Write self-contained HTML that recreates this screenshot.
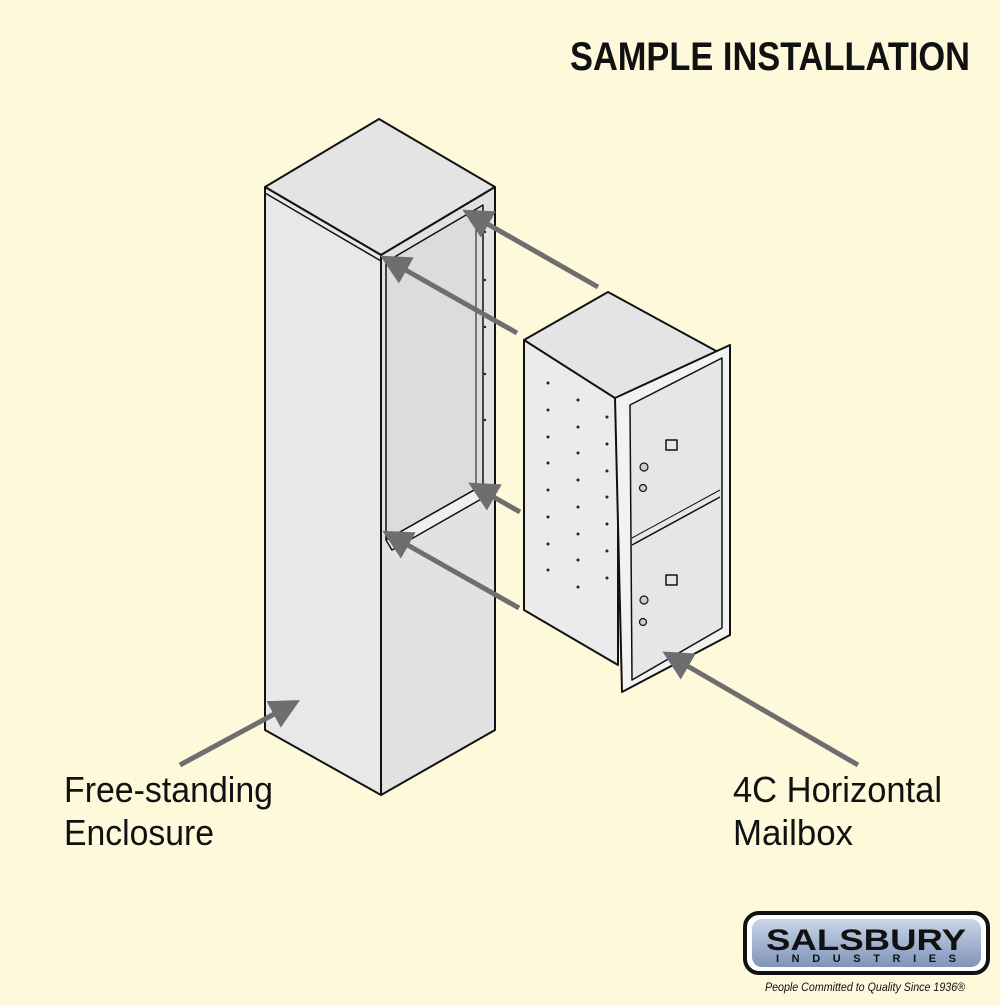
<!DOCTYPE html>
<html><head><meta charset="utf-8"><style>
body{margin:0;width:1000px;height:1000px;background:#fef9da;overflow:hidden;font-family:"Liberation Sans",sans-serif}
</style></head><body>
<svg width="1000" height="1000" viewBox="0 0 1000 1000" xmlns="http://www.w3.org/2000/svg">
<defs>
<marker id="ah" markerWidth="6" markerHeight="6" refX="1" refY="3" orient="auto" markerUnits="strokeWidth">
<path d="M6,0 L0,3 L6,6 Z" fill="#6e6e6e" transform="rotate(180 3 3)"/>
</marker>
<linearGradient id="lg" x1="0" y1="0" x2="0" y2="1"><stop offset="0" stop-color="#c9d6ea"/><stop offset="1" stop-color="#7f94b8"/></linearGradient>
</defs>
<rect width="1000" height="1000" fill="#fef9da"/>
<text x="970" y="70" text-anchor="end" font-family="Liberation Sans Narrow,Liberation Sans,sans-serif" font-weight="bold" font-size="40" fill="#111" textLength="400" lengthAdjust="spacingAndGlyphs">SAMPLE INSTALLATION</text>

<!-- Enclosure -->
<g stroke="#111" stroke-width="2" stroke-linejoin="round">
<polygon points="379,119 495,187 381,255 265,187" fill="#e4e4e4"/>
<polygon points="265,187 381,255 381,795 265,730" fill="#e8e8e8"/>
<polygon points="381,255 495,187 495,730 381,795" fill="#e2e2e2"/>
<polygon points="386,262 483,205 483,485 386,540" fill="#dcdcdc" stroke-width="1.5"/>
<polygon points="386,540 483,485 483,498 392,550" fill="#f0f0f0" stroke-width="1.5"/>
<line x1="265" y1="193" x2="381" y2="261" stroke-width="1.5"/>
<line x1="476" y1="210" x2="476" y2="485" stroke-width="1"/>
</g>

<!-- Mailbox -->
<g stroke="#111" stroke-width="2" stroke-linejoin="round">
<polygon points="608,292 718,352 618,405 524,340" fill="#e4e4e4"/>
<polygon points="524,340 618,400 618,665 524,610" fill="#ebebeb"/>
<polygon points="615,398 730,345 730,635 622,692" fill="#f2f2f2"/>
<polygon points="630,405 722,358 722,628 632,680" fill="#e6e6e6" stroke-width="1.5"/>
<line x1="632" y1="545" x2="720" y2="497" stroke-width="1.5"/>
<line x1="632" y1="538" x2="720" y2="490" stroke-width="1"/>
<rect x="666" y="440" width="11" height="10" fill="none" stroke-width="1.5"/>
<rect x="666" y="575" width="11" height="10" fill="none" stroke-width="1.5"/>
<circle cx="644" cy="467" r="4" fill="#ccc" stroke-width="1.2"/>
<circle cx="643" cy="488" r="3.5" fill="#ccc" stroke-width="1.2"/>
<circle cx="644" cy="600" r="4" fill="#ccc" stroke-width="1.2"/>
<circle cx="643" cy="622" r="3.5" fill="#ccc" stroke-width="1.2"/>
</g>
<g fill="#222">
<circle cx="548" cy="383" r="1.5"/><circle cx="548" cy="410" r="1.5"/><circle cx="548" cy="437" r="1.5"/><circle cx="548" cy="463" r="1.5"/><circle cx="548" cy="490" r="1.5"/><circle cx="548" cy="517" r="1.5"/><circle cx="548" cy="544" r="1.5"/><circle cx="548" cy="570" r="1.5"/>
<circle cx="578" cy="400" r="1.5"/><circle cx="578" cy="427" r="1.5"/><circle cx="578" cy="453" r="1.5"/><circle cx="578" cy="480" r="1.5"/><circle cx="578" cy="507" r="1.5"/><circle cx="578" cy="534" r="1.5"/><circle cx="578" cy="560" r="1.5"/><circle cx="578" cy="587" r="1.5"/>
<circle cx="607" cy="417" r="1.5"/><circle cx="607" cy="444" r="1.5"/><circle cx="607" cy="471" r="1.5"/><circle cx="607" cy="497" r="1.5"/><circle cx="607" cy="524" r="1.5"/><circle cx="607" cy="551" r="1.5"/><circle cx="607" cy="578" r="1.5"/>
<circle cx="485" cy="232" r="1.2"/><circle cx="485" cy="280" r="1.2"/><circle cx="485" cy="327" r="1.2"/><circle cx="485" cy="374" r="1.2"/><circle cx="485" cy="420" r="1.2"/>
</g>

<!-- Arrows -->
<g stroke="#6e6e6e" stroke-width="5" marker-end="url(#ah)" fill="none">
<line x1="598" y1="287" x2="484" y2="222"/>
<line x1="517" y1="333" x2="402" y2="268"/>
<line x1="520" y1="512" x2="490" y2="495"/>
<line x1="519" y1="608" x2="404" y2="543"/>
<line x1="858" y1="765" x2="684" y2="664"/>
<line x1="180" y1="765" x2="278" y2="712"/>
</g>

<g font-size="36" fill="#111" lengthAdjust="spacingAndGlyphs">
<text x="64" y="802" textLength="209" lengthAdjust="spacingAndGlyphs">Free-standing</text>
<text x="64" y="845" textLength="150" lengthAdjust="spacingAndGlyphs">Enclosure</text>
<text x="733" y="802" textLength="209" lengthAdjust="spacingAndGlyphs">4C Horizontal</text>
<text x="733" y="845" textLength="120" lengthAdjust="spacingAndGlyphs">Mailbox</text>
</g>

<!-- Logo -->
<rect x="745" y="913" width="243" height="60" rx="14" fill="#fff" stroke="#111" stroke-width="4"/>
<rect x="752" y="919" width="229" height="48" rx="10" fill="url(#lg)"/>
<text x="866" y="950" text-anchor="middle" font-weight="bold" font-size="30" fill="#111" textLength="200" lengthAdjust="spacingAndGlyphs">SALSBURY</text>
<text x="866" y="962" text-anchor="middle" font-weight="bold" font-size="11" fill="#111" textLength="180" lengthAdjust="spacing">INDUSTRIES</text>
<text x="865" y="991" text-anchor="middle" font-style="italic" font-size="12" fill="#111" textLength="200" lengthAdjust="spacingAndGlyphs">People Committed to Quality Since 1936®</text>
</svg>
</body></html>
